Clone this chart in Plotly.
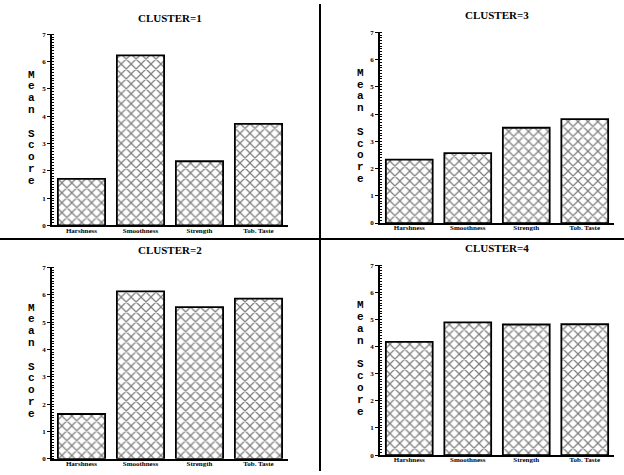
import plotly.graph_objects as go

categories = ["Harshness", "Smoothness", "Strength", "Tob. Taste"]
cluster1 = [1.70, 6.23, 2.35, 3.72]
cluster2 = [1.64, 6.12, 5.55, 5.86]
cluster3 = [2.33, 2.57, 3.50, 3.82]
cluster4 = [4.17, 4.89, 4.81, 4.82]
y_ticks = [0, 1, 2, 3, 4, 5, 6, 7]
y_title_letters = list("Mean") + [""] + list("Score")

H = 475.0
W = 624.0
panels = [
    ("CLUSTER=1", cluster1, "x", "y", [0.0833, 0.4615], [0.526, 0.935], 14),
    ("CLUSTER=3", cluster3, "x2", "y2", [0.609, 0.984], [0.531, 0.939], 11),
    ("CLUSTER=2", cluster2, "x3", "y3", [0.0833, 0.4615], [0.026, 0.436], 250),
    ("CLUSTER=4", cluster4, "x4", "y4", [0.609, 0.984], [0.034, 0.441], 248),
]

fig = go.Figure()
layout = dict(
    width=624, height=475,
    margin=dict(l=0, r=0, t=0, b=0),
    paper_bgcolor="white", plot_bgcolor="white",
    showlegend=False, bargap=0.2,
    font=dict(family="Liberation Serif", color="black"),
)
annotations = []
for title, vals, xa, ya, xd, yd, ty in panels:
    fig.add_trace(go.Bar(
        x=categories, y=vals, xaxis=xa, yaxis=ya,
        marker=dict(color="white",
                    line=dict(color="black", width=1.8),
                    pattern=dict(shape="x", size=7, solidity=0.32,
                                 fgcolor="black", bgcolor="white")),
    ))
    xk = "xaxis" + xa[1:]
    yk = "yaxis" + ya[1:]
    layout[xk] = dict(domain=xd, anchor=ya, range=[-0.5, 3.5],
                      showline=True, linecolor="black", linewidth=1.5,
                      ticks="", showgrid=False, fixedrange=True,
                      tickvals=categories,
                      ticktext=["<b>" + c + "</b>" for c in categories],
                      ticklabelstandoff=-3,
                      tickfont=dict(family="Liberation Serif", size=7, color="black"),
                      tickangle=0)
    layout[yk] = dict(domain=yd, anchor=xa, range=[0, 7],
                      tickvals=y_ticks,
                      ticktext=["<b>%d</b>" % v for v in y_ticks],
                      showline=True, linecolor="black",
                      linewidth=1.5, ticks="outside", ticklen=3,
                      tickcolor="black", showgrid=False, zeroline=False,
                      fixedrange=True,
                      tickfont=dict(family="Liberation Serif", size=7, color="black"),
                      minor=dict(dtick=0.1, ticks="inside", ticklen=2,
                                 tickcolor="black", tickwidth=1))
    annotations.append(dict(
        text="<b>" + title + "</b>", xref="paper", yref="paper",
        x=(xd[0] + xd[1]) / 2, y=(H - ty) / H, xanchor="center", yanchor="middle",
        showarrow=False, font=dict(family="Liberation Serif", size=11, color="black")))
    top_px = H * (1 - yd[1])
    for i, letter in enumerate(y_title_letters):
        if not letter:
            continue
        annotations.append(dict(
            text="<b>" + letter + "</b>", xref="paper", yref="paper",
            x=xd[0] - 20 / W, y=(H - (top_px + 41 + 12 * i)) / H,
            xanchor="center", yanchor="middle", showarrow=False,
            font=dict(family="Liberation Mono", size=11, color="black")))

layout["annotations"] = annotations
layout["shapes"] = [
    dict(type="line", xref="paper", yref="paper", x0=0, x1=1,
         y0=(H - 239) / H, y1=(H - 239) / H,
         line=dict(color="black", width=2)),
    dict(type="line", xref="paper", yref="paper", x0=320 / W, x1=320 / W,
         y0=0, y1=1, line=dict(color="black", width=2)),
]
fig.update_layout(**layout)
fig.write_html("out.html",
               config={"displayModeBar": False},
               post_script="document.body.style.margin='0';document.body.style.padding='0';")
